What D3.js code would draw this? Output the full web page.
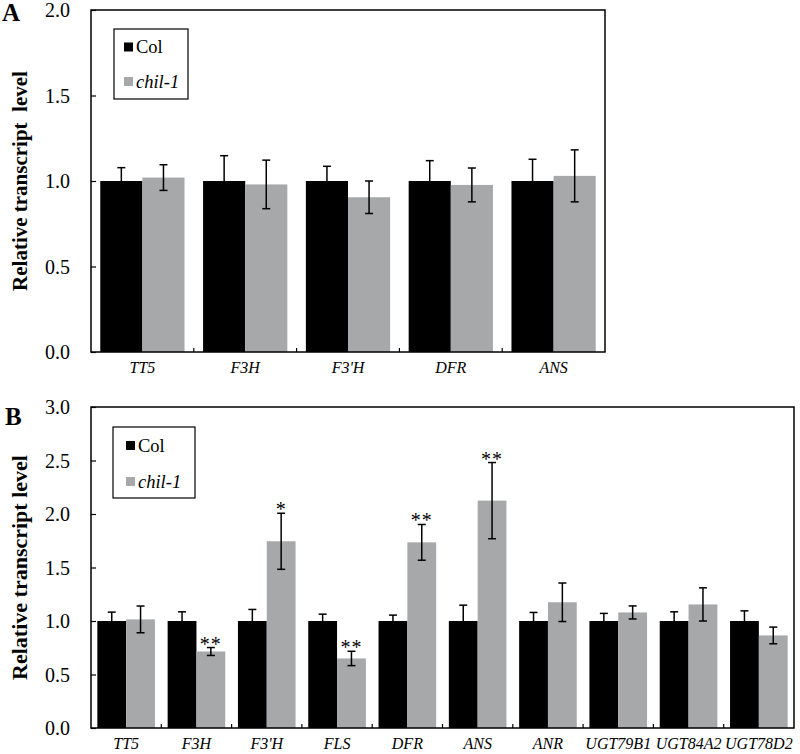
<!DOCTYPE html>
<html>
<head>
<meta charset="utf-8">
<script src="https://cdn.jsdelivr.net/npm/d3@7"></script>
<style>
html,body{margin:0;padding:0;background:#fff;}
svg{display:block;}
text{font-family:"Liberation Serif","Times New Roman",Times,serif;fill:#000;}
</style>
</head>
<body>
<svg id="chart" width="800" height="754"></svg>
<script>
// ---- Data ----
const seriesNames = ["Col", "chil-1"];
const seriesColors = ["#000000", "#a7a8aa"];

const genesA = ["TT5", "F3H", "F3'H", "DFR", "ANS"];
const colA = [1.0, 1.0, 1.0, 1.0, 1.0];
const colErrA = [0.078, 0.148, 0.086, 0.119, 0.127];
const chilA = [1.02, 0.98, 0.905, 0.977, 1.03];
const chilErrA = [0.075, 0.142, 0.095, 0.099, 0.152];
const sigA = ["", "", "", "", ""];
const ticksA = [0.0, 0.5, 1.0, 1.5, 2.0];

const genesB = ["TT5", "F3H", "F3'H", "FLS", "DFR", "ANS", "ANR", "UGT79B1", "UGT84A2", "UGT78D2"];
const colB = [1.0, 1.0, 1.0, 1.0, 1.0, 1.0, 1.0, 1.0, 1.0, 1.0];
const colErrB = [0.083, 0.086, 0.108, 0.064, 0.055, 0.148, 0.08, 0.071, 0.086, 0.095];
const chilB = [1.015, 0.715, 1.745, 0.65, 1.735, 2.125, 1.175, 1.08, 1.155, 0.865];
const chilErrB = [0.125, 0.037, 0.262, 0.067, 0.167, 0.356, 0.18, 0.061, 0.155, 0.078];
const sigB = ["", "**", "*", "**", "**", "**", "", "", "", ""];
const ticksB = [0.0, 0.5, 1.0, 1.5, 2.0, 2.5, 3.0];

const FONT = "'Liberation Serif','Times New Roman',Times,serif";
const svg = d3.select("#chart");

function panel(cfg) {
  const {letter, genes, col, colErr, chil, chilErr, sig, ticks, yMax,
         left, right, top, bottom, title, titleSize, legend} = cfg;
  const g = svg.append("g");
  const x = d3.scaleBand().domain(genes).range([left, right]).paddingInner(0).paddingOuter(0);
  const inner = d3.scaleBand().domain(seriesNames).range([0, x.bandwidth()]).paddingInner(0).paddingOuter(0.22);
  const y = d3.scaleLinear().domain([0, yMax]).range([bottom, top]);

  const data = genes.map((gname, i) => ({
    gene: gname,
    vals: [
      {s: seriesNames[0], v: col[i], e: colErr[i], c: seriesColors[0]},
      {s: seriesNames[1], v: chil[i], e: chilErr[i], c: seriesColors[1]}
    ],
    sig: sig[i]
  }));

  const grp = g.selectAll("g.grp").data(data).enter().append("g")
    .attr("transform", d => `translate(${x(d.gene)},0)`);

  grp.selectAll("rect").data(d => d.vals).enter().append("rect")
    .attr("x", d => inner(d.s))
    .attr("width", inner.bandwidth())
    .attr("y", d => y(d.v))
    .attr("height", d => y(0) - y(d.v))
    .attr("fill", d => d.c);

  // error bars
  const cap = 4;
  grp.selectAll("g.err").data(d => d.vals).enter().append("g").each(function(d) {
    const cx = inner(d.s) + inner.bandwidth() / 2;
    const e = d3.select(this);
    e.append("line").attr("x1", cx).attr("x2", cx).attr("y1", y(d.v + d.e)).attr("y2", y(d.v - d.e))
      .attr("stroke", "#000").attr("stroke-width", 1.5);
    [d.v + d.e, d.v - d.e].forEach(t => {
      e.append("line").attr("x1", cx - cap).attr("x2", cx + cap).attr("y1", y(t)).attr("y2", y(t))
        .attr("stroke", "#000").attr("stroke-width", 1.5);
    });
  });

  // significance
  grp.filter(d => d.sig).append("text")
    .attr("x", d => inner(seriesNames[1]) + inner.bandwidth() / 2)
    .attr("y", d => y(d.vals[1].v + d.vals[1].e) + 3)
    .attr("text-anchor", "middle")
    .attr("font-size", 20)
    .style("font-family", FONT)
    .style("letter-spacing", "1px")
    .text(d => d.sig);

  // y axis
  const yAxis = d3.axisLeft(y).tickValues(ticks).tickFormat(d3.format(".1f")).tickSizeInner(-5).tickSizeOuter(0).tickPadding(21);
  const ya = g.append("g").attr("transform", `translate(${left},0)`).call(yAxis);
  ya.select(".domain").remove();
  ya.selectAll("line").attr("stroke", "#000").attr("stroke-width", 1.2);
  ya.selectAll("text").attr("font-size", 20).style("font-family", FONT).attr("dy", "0.34em");

  // x axis
  const xAxis = d3.axisBottom(x).tickSize(0).tickPadding(0);
  const xa = g.append("g").attr("transform", `translate(0,${bottom})`).call(xAxis);
  xa.select(".domain").remove();
  xa.selectAll("text").attr("font-size", 16).attr("font-style", "italic").style("font-family", FONT)
    .attr("y", cfg.xLabelOffset).attr("dy", 0);
  // boundary ticks (inward)
  g.selectAll("line.bt").data(genes.slice(1)).enter().append("line")
    .attr("x1", d => x(d)).attr("x2", d => x(d)).attr("y1", bottom).attr("y2", bottom - 4)
    .attr("stroke", "#000").attr("stroke-width", 1.2);

  // plot box
  g.append("rect").attr("x", left).attr("y", top).attr("width", right - left).attr("height", bottom - top)
    .attr("fill", "none").attr("stroke", "#000").attr("stroke-width", 1.5);

  // y title
  g.append("text")
    .attr("transform", `translate(${cfg.titleX},${(top + bottom) / 2}) rotate(-90)`)
    .attr("text-anchor", "middle")
    .attr("font-weight", "bold")
    .attr("font-size", titleSize)
    .style("font-family", FONT)
    .style("white-space", "pre")
    .text(title);

  // panel letter
  g.append("text").attr("x", cfg.letterX).attr("y", cfg.letterY)
    .attr("font-weight", "bold").attr("font-size", cfg.letterSize).style("font-family", FONT).text(letter);

  // legend
  const L = legend;
  g.append("rect").attr("x", L.x).attr("y", L.y).attr("width", L.w).attr("height", L.h)
    .attr("fill", "#fff").attr("stroke", "#000").attr("stroke-width", 1.2);
  seriesNames.forEach((s, i) => {
    const cy = L.y + L.rowY[i];
    g.append("rect").attr("x", L.x + L.sq).attr("y", cy - 4.5).attr("width", 9).attr("height", 9).attr("fill", seriesColors[i]);
    g.append("text").attr("x", L.x + L.sq + 12).attr("y", cy + 6).attr("font-size", 18.5)
      .style("font-family", FONT)
      .attr("font-style", i === 1 ? "italic" : "normal").text(s);
  });
}

panel({
  letter: "A", genes: genesA, col: colA, colErr: colErrA, chil: chilA, chilErr: chilErrA, sig: sigA,
  ticks: ticksA, yMax: 2.0, left: 91, right: 605, top: 10, bottom: 352,
  title: "Relative transcript  level", titleSize: 21, titleX: 27,
  letterX: 2, letterY: 21, letterSize: 25, xLabelOffset: 21,
  legend: {x: 114, y: 29, w: 74, h: 70, sq: 10, rowY: [18, 52.5]}
});

panel({
  letter: "B", genes: genesB, col: colB, colErr: colErrB, chil: chilB, chilErr: chilErrB, sig: sigB,
  ticks: ticksB, yMax: 3.0, left: 91, right: 794, top: 407, bottom: 728,
  title: "Relative transcript level", titleSize: 22, titleX: 27,
  letterX: 5, letterY: 425, letterSize: 25, xLabelOffset: 21,
  legend: {x: 113, y: 427, w: 82, h: 71, sq: 13, rowY: [18.5, 54.5]}
});
</script>
</body>
</html>
